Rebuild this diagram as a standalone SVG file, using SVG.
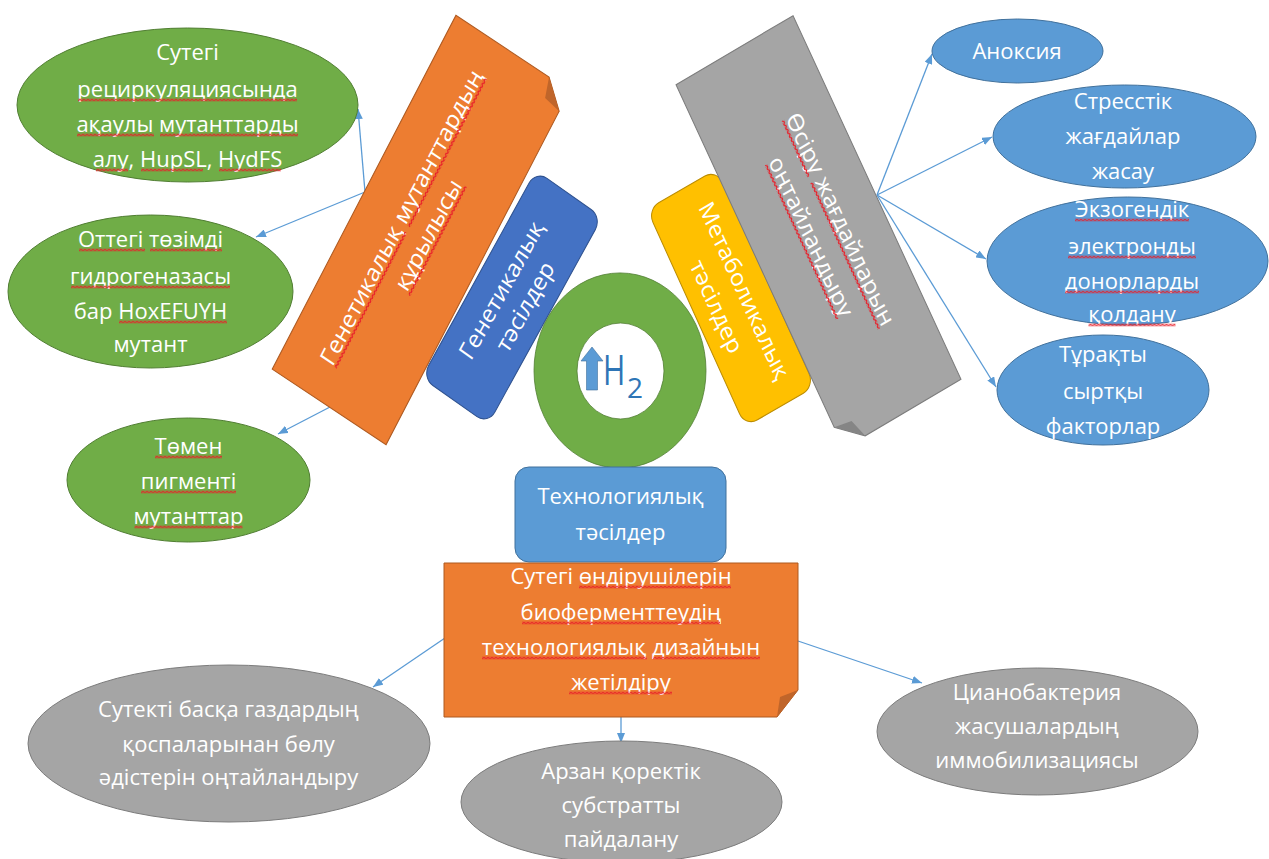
<svg xmlns="http://www.w3.org/2000/svg" width="1269" height="859" viewBox="0 0 1269 859">
  <defs>
    <style>
      .t { font-family: "Open Sans", "Noto Sans", "DejaVu Sans", sans-serif; font-size: 22px; fill: #ffffff; text-anchor: middle; }
      .sq { fill: url(#wave); }
      .green { fill: #70ad47; stroke: #507e32; stroke-width: 1; }
      .grey { fill: #a5a5a5; stroke: #7c7c7c; stroke-width: 1; }
      .lblue { fill: #5b9bd5; stroke: #41719c; stroke-width: 1; }
      .orange { fill: #ed7d31; stroke: #ae5a21; stroke-width: 1; }
      .fold-o { fill: #c0652a; }
      .fold-g { fill: #858585; }
      .link { fill: none; stroke: #5b9bd5; stroke-width: 1.3; marker-end: url(#arr); }
    </style>
    <marker id="arr" markerUnits="userSpaceOnUse" markerWidth="11" markerHeight="8" refX="10" refY="4" orient="auto">
      <path d="M0,0 L10,4 L0,8 z" fill="#5b9bd5"/>
    </marker>
    <!-- red spell-check wave, tiled along each squiggle strip -->
    <pattern id="wave" width="4" height="3" patternUnits="userSpaceOnUse">
      <path d="M-1,1.5 L0,2.5 L2,0.5 L4,2.5 L5,1.5" fill="none" stroke="#e8202a" stroke-width="1.15"/>
    </pattern>
  </defs>

  <rect width="1269" height="859" fill="#ffffff"/>

  <!-- connectors -->
  <g id="connectors">
    <line class="link" x1="365" y1="192" x2="358" y2="109"/>
    <line class="link" x1="365" y1="192" x2="256" y2="237"/>
    <line class="link" x1="330" y1="407" x2="278" y2="434"/>
    <line class="link" x1="877" y1="195" x2="932" y2="54"/>
    <line class="link" x1="877" y1="195" x2="992" y2="137"/>
    <line class="link" x1="877" y1="195" x2="986" y2="259"/>
    <line class="link" x1="877" y1="195" x2="996" y2="387"/>
    <line class="link" x1="445" y1="638" x2="373" y2="687"/>
    <line class="link" x1="621" y1="717" x2="621" y2="743"/>
    <line class="link" x1="798" y1="641" x2="922" y2="683"/>
  </g>

  <!-- left outcome ellipses -->
  <g id="recycling-mutants">
    <ellipse class="green" cx="187.5" cy="105" rx="170.5" ry="77"/>
    <text class="t" x="187.5" y="60">Сутегі</text>
    <text class="t" x="187.5" y="97">рециркуляциясында</text>
    <text class="t" x="187.5" y="132">ақаулы мутанттарды</text>
    <text class="t" x="187.5" y="167">алу, HupSL, HydFS</text>
    <rect class="sq" transform="translate(78,98.5)" width="219" height="3"/>
    <rect class="sq" transform="translate(77,133.5)" width="77" height="3"/>
    <rect class="sq" transform="translate(160,133.5)" width="138" height="3"/>
    <rect class="sq" transform="translate(96,168.5)" width="32" height="3"/>
    <rect class="sq" transform="translate(141,168.5)" width="62" height="3"/>
    <rect class="sq" transform="translate(219,168.5)" width="62" height="3"/>
  </g>
  <g id="oxygen-tolerant">
    <ellipse class="green" cx="150.5" cy="291.5" rx="142.5" ry="76.5"/>
    <text class="t" x="150.5" y="247">Оттегі төзімді</text>
    <text class="t" x="150.5" y="284">гидрогеназасы</text>
    <text class="t" x="150.5" y="319">бар HoxEFUYH</text>
    <text class="t" x="150.5" y="352">мутант</text>
    <rect class="sq" transform="translate(79,248.5)" width="66" height="3"/>
    <rect class="sq" transform="translate(150,248.5)" width="72" height="3"/>
    <rect class="sq" transform="translate(71,285.5)" width="159" height="3"/>
    <rect class="sq" transform="translate(119,320.5)" width="108" height="3"/>
  </g>
  <g id="low-pigment">
    <ellipse class="green" cx="188.5" cy="480" rx="121.5" ry="62"/>
    <text class="t" x="188.5" y="454">Төмен</text>
    <text class="t" x="188.5" y="489">пигменті</text>
    <text class="t" x="188.5" y="524">мутанттар</text>
    <rect class="sq" transform="translate(155,455.5)" width="67" height="3"/>
    <rect class="sq" transform="translate(141,490.5)" width="95" height="3"/>
    <rect class="sq" transform="translate(134.5,525.5)" width="108" height="3"/>
  </g>

  <!-- genetic mutant construction (folded note, rotated) -->
  <g id="mutant-construction" transform="translate(421,230) scale(1,1.13) rotate(-59.6)">
    <path class="orange" d="M-181.5,-66 H181.5 V42 L160.5,66 H-181.5 Z"/>
    <path class="fold-o" d="M181.5,42 L160.5,66 L163.5,48 Z"/>
    <text class="t" x="0" y="-15">Генетикалық мутанттардың</text>
    <text class="t" x="0" y="16">құрылысы</text>
    <rect class="sq" transform="translate(-148.5,-13.5)" width="139" height="3"/>
    <rect class="sq" transform="translate(-3.5,-13.5)" width="152" height="3"/>
    <rect class="sq" transform="translate(-56,17.5)" width="112" height="3"/>
  </g>

  <!-- genetic approaches -->
  <g id="genetic-approaches" transform="translate(512,297.5) scale(1,1.13) rotate(-58.1)">
    <rect x="-108" y="-39" width="216" height="78" rx="13" fill="#4472c4" stroke="#2f528f" stroke-width="1"/>
    <text class="t" x="0" y="-5">Генетикалық</text>
    <text class="t" x="0" y="23">тәсілдер</text>
  </g>

  <!-- metabolic approaches -->
  <g id="metabolic-approaches" transform="translate(731,298) scale(1,1.13) rotate(62.9)">
    <rect x="-108" y="-39" width="216" height="78" rx="13" fill="#ffc000" stroke="#bc8c00" stroke-width="1"/>
    <text class="t" x="0" y="-7">Метаболикалық</text>
    <text class="t" x="0" y="24">тәсілдер</text>
  </g>

  <!-- growth conditions optimisation (folded note, rotated) -->
  <g id="growth-conditions" transform="translate(818.5,232) scale(1,1.13) rotate(62.45)">
    <path class="grey" d="M-181.5,-66 H181.5 V42 L160.5,66 H-181.5 Z"/>
    <path class="fold-g" d="M181.5,42 L160.5,66 L163.5,48 Z"/>
    <text class="t" x="0" y="-17">Өсіру жағдайларын</text>
    <text class="t" x="0" y="16">оңтайландыру</text>
    <rect class="sq" transform="translate(-104,-15.5)" width="56" height="3"/>
    <rect class="sq" transform="translate(-42,-15.5)" width="146" height="3"/>
    <rect class="sq" transform="translate(-77,17.5)" width="154" height="3"/>
  </g>

  <!-- central hydrogen ring -->
  <g id="hydrogen">
    <path d="M534,370.5 a86,97.5 0 1,0 172,0 a86,97.5 0 1,0 -172,0 Z M577,371 a43.5,48 0 1,1 87,0 a43.5,48 0 1,1 -87,0 Z" fill="#70ad47" fill-rule="evenodd" stroke="#507e32" stroke-width="0.8"/>
    <path d="M592,347 L603,361 L597.5,361 L597.5,390 L586.5,390 L586.5,361 L581,361 Z" fill="#5b9bd5" stroke="#41719c" stroke-width="0.6"/>
    <text transform="translate(603,385) scale(0.72,1)" font-family="Open Sans, Noto Sans, sans-serif" font-size="42" fill="#2e75b6">H</text>
    <text x="627" y="398" font-family="Open Sans, Noto Sans, sans-serif" font-size="28" fill="#2e75b6">2</text>
  </g>

  <!-- right outcome ellipses -->
  <g id="anoxia">
    <ellipse class="lblue" cx="1017.5" cy="51" rx="85.5" ry="32"/>
    <text class="t" x="1017" y="59">Аноксия</text>
  </g>
  <g id="stress-conditions">
    <ellipse class="lblue" cx="1124.5" cy="136.5" rx="131.5" ry="51.5"/>
    <text class="t" x="1123" y="109">Стресстік</text>
    <text class="t" x="1123" y="144">жағдайлар</text>
    <text class="t" x="1123" y="179">жасау</text>
  </g>
  <g id="electron-donors">
    <ellipse class="lblue" cx="1127.5" cy="261" rx="140.5" ry="64"/>
    <text class="t" x="1132" y="217">Экзогендік</text>
    <text class="t" x="1132" y="254">электронды</text>
    <text class="t" x="1132" y="289">донорларды</text>
    <text class="t" x="1132" y="322">қолдану</text>
    <rect class="sq" transform="translate(1075,218.5)" width="114" height="3"/>
    <rect class="sq" transform="translate(1068,255.5)" width="128" height="3"/>
    <rect class="sq" transform="translate(1065,290.5)" width="134" height="3"/>
    <rect class="sq" transform="translate(1088.5,323.5)" width="87" height="3"/>
  </g>
  <g id="external-factors">
    <ellipse class="lblue" cx="1103" cy="390" rx="106" ry="55"/>
    <text class="t" x="1103" y="362">Тұрақты</text>
    <text class="t" x="1103" y="399">сыртқы</text>
    <text class="t" x="1103" y="434">факторлар</text>
  </g>

  <!-- technological approaches -->
  <g id="tech-approaches">
    <rect x="515" y="467" width="211" height="95" rx="14" class="lblue"/>
    <text class="t" x="620.5" y="504">Технологиялық</text>
    <text class="t" x="620.5" y="540">тәсілдер</text>
  </g>

  <!-- biofermentation design (folded note) -->
  <g id="bioferment-design">
    <path class="orange" d="M444,563 H798 V690 L777,717 H444 Z"/>
    <path class="fold-o" d="M798,690 L777,717 L780,697 Z"/>
    <text class="t" x="621" y="584">Сутегі өндірушілерін</text>
    <text class="t" x="621" y="620">биоферменттеудің</text>
    <text class="t" x="621" y="655">технологиялық дизайнын</text>
    <text class="t" x="621" y="690">жетілдіру</text>
    <rect class="sq" transform="translate(579,585.5)" width="152" height="3"/>
    <rect class="sq" transform="translate(522,621.5)" width="198" height="3"/>
    <rect class="sq" transform="translate(482,656.5)" width="165" height="3"/>
    <rect class="sq" transform="translate(653,656.5)" width="107" height="3"/>
    <rect class="sq" transform="translate(569,691.5)" width="103" height="3"/>
  </g>

  <!-- bottom outcome ellipses -->
  <g id="gas-separation">
    <ellipse class="grey" cx="229" cy="743.5" rx="201" ry="78.5"/>
    <text class="t" x="228.5" y="717">Сутекті басқа газдардың</text>
    <text class="t" x="228.5" y="752">қоспаларынан бөлу</text>
    <text class="t" x="228.5" y="785">әдістерін оңтайландыру</text>
  </g>
  <g id="cheap-substrate">
    <ellipse class="grey" cx="621.5" cy="802" rx="160.5" ry="61"/>
    <text class="t" x="621" y="779">Арзан қоректік</text>
    <text class="t" x="621" y="813">субстратты</text>
    <text class="t" x="621" y="847">пайдалану</text>
  </g>
  <g id="immobilisation">
    <ellipse class="grey" cx="1037.5" cy="731.5" rx="160.5" ry="63.5"/>
    <text class="t" x="1037" y="700">Цианобактерия</text>
    <text class="t" x="1037" y="734">жасушалардың</text>
    <text class="t" x="1037" y="768">иммобилизациясы</text>
  </g>
</svg>
